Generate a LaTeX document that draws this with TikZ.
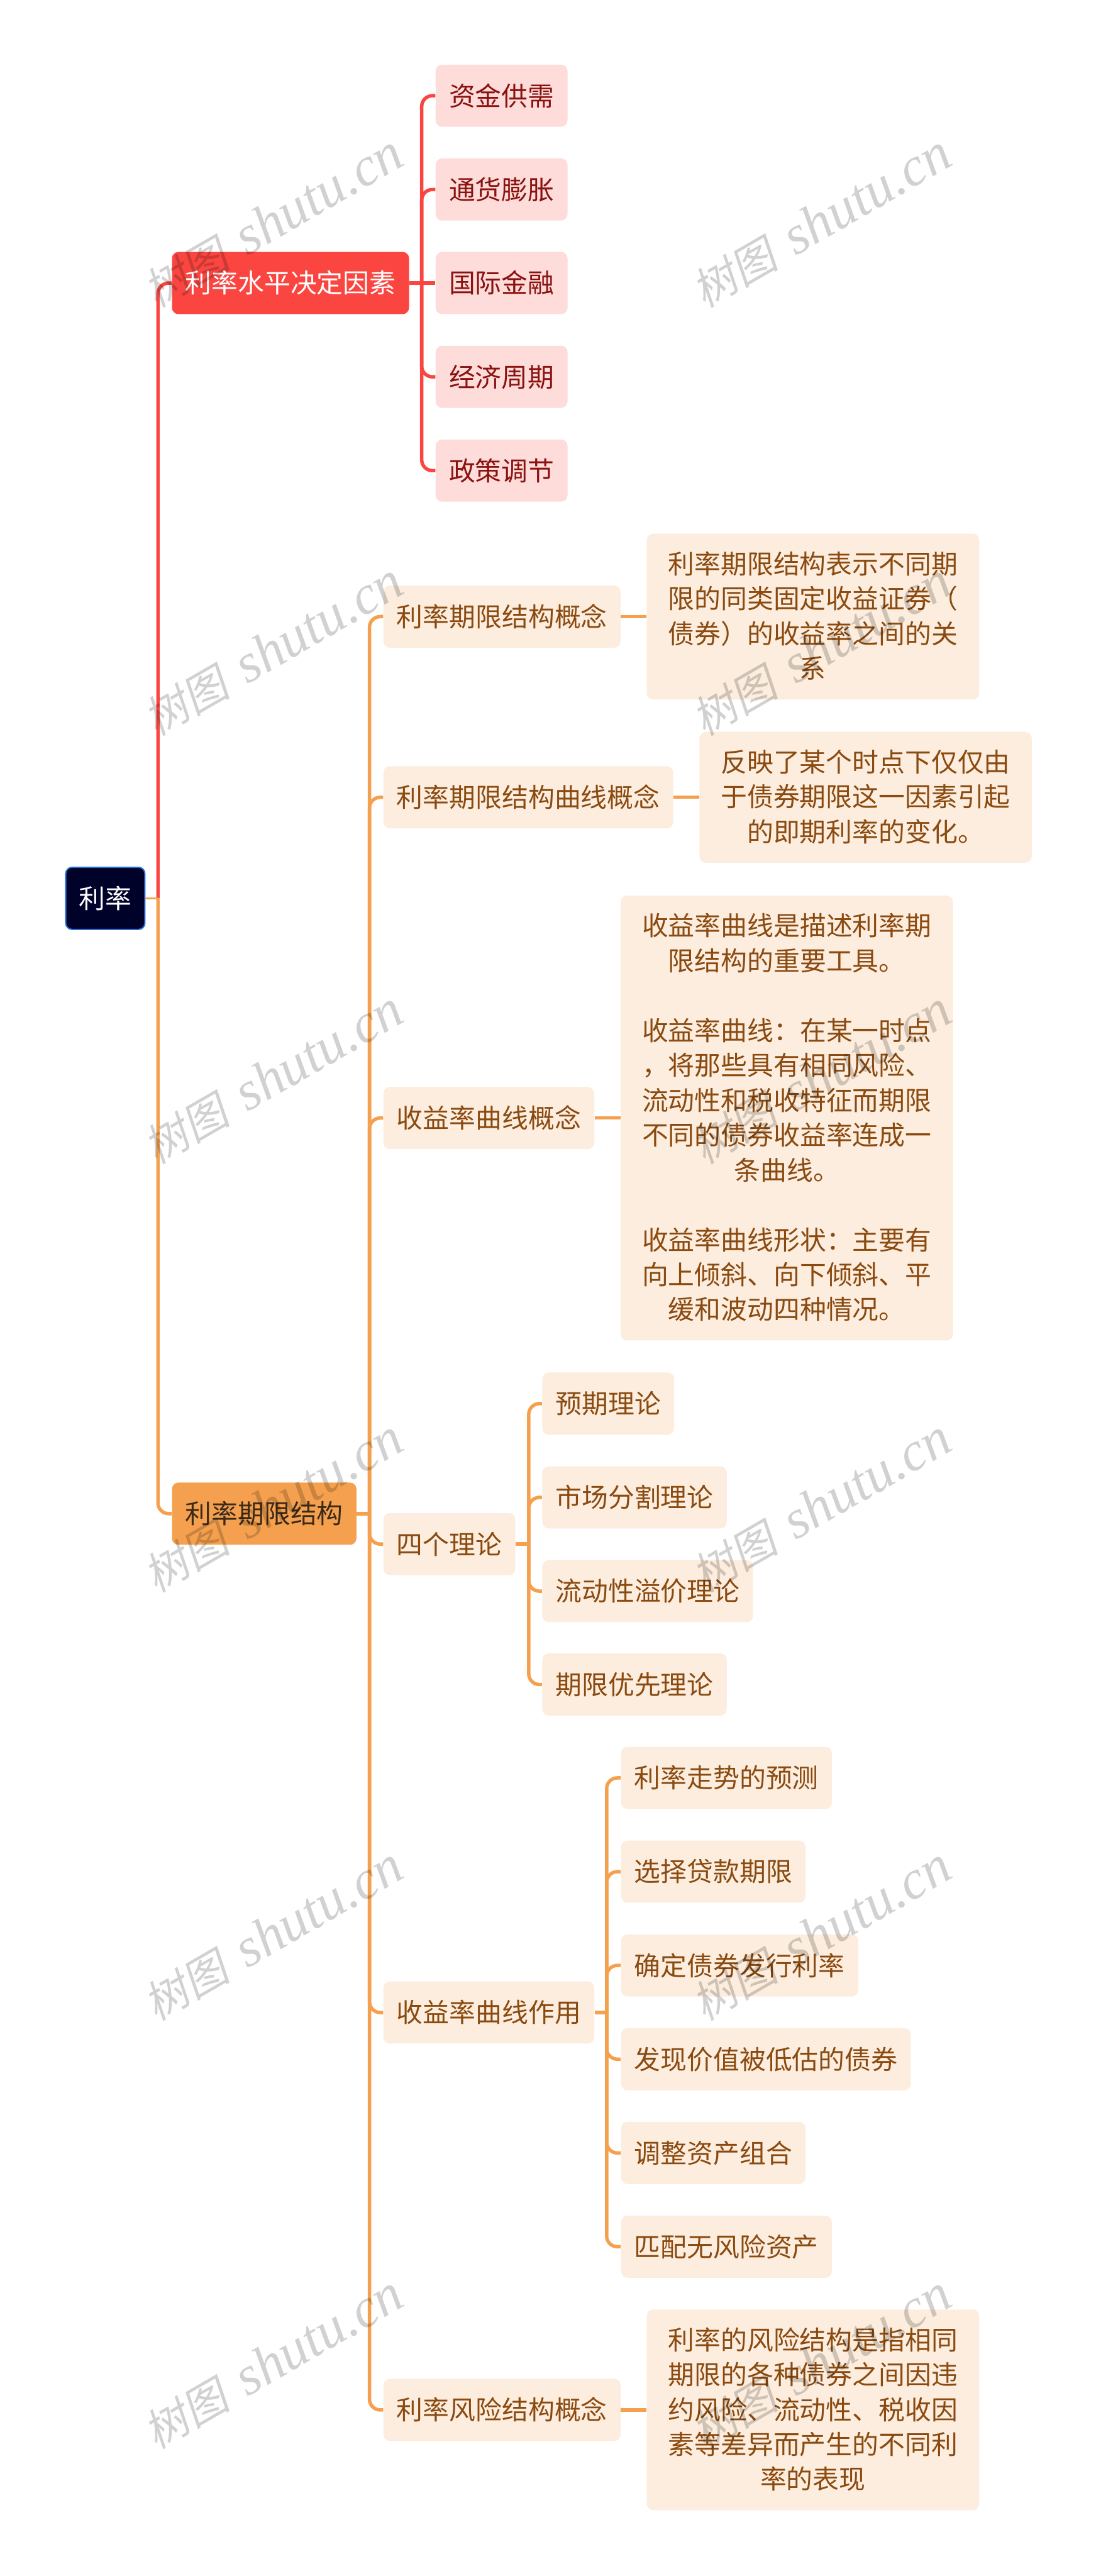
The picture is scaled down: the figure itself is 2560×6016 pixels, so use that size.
\documentclass[tikz,border=0pt]{standalone}
\usepackage{fontspec}
\setmainfont{Noto Sans CJK SC}
\newfontfamily\wmcjk[FakeSlant=0.2]{Noto Sans CJK SC}
\newfontfamily\wmlatin{Liberation Serif Italic}

\definecolor{rootfill}{HTML}{000229}
\definecolor{rootedge}{HTML}{2A6FD6}
\definecolor{redmain}{HTML}{FA4540}
\definecolor{redpale}{HTML}{FDDCDA}
\definecolor{redtext}{HTML}{8A1210}
\definecolor{orangemain}{HTML}{F5A04E}
\definecolor{orangepale}{HTML}{FCEDDE}
\definecolor{orangetext}{HTML}{8A4A10}
\definecolor{darktext}{HTML}{3A2A18}

\newcommand{\ls}{\rule[-0.0737cm]{0pt}{0.6144cm}}

\tikzset{
  basebox/.style={rounded corners=0.15cm, anchor=west, align=center, inner xsep=0.31cm, inner ysep=0.418cm,
    font=\fontsize{17.48}{23.16}\selectfont, execute at begin node=\ls, execute at end node=\ls},
  rootbox/.style={basebox, fill=rootfill, draw=rootedge, line width=0.03cm, text=white},
  redbox/.style={basebox, fill=redmain, text=white},
  redleaf/.style={basebox, fill=redpale, text=redtext},
  orangebox/.style={basebox, fill=orangemain, text=darktext},
  orangeleaf/.style={basebox, fill=orangepale, text=orangetext},
  detailbox/.style={orangeleaf, inner xsep=0.5cm},
  redline/.style={draw=redmain, line width=0.08cm, rounded corners=0.25cm},
  orangeline/.style={draw=orangemain, line width=0.08cm, rounded corners=0.25cm},
  rootline/.style={draw=orangemain, line width=0.055cm},
  watermark/.style={text=black, text opacity=0.18, rotate=30}
}

\begin{document}
\begin{tikzpicture}[x=0.01cm, y=-0.01cm]

\fill[white] (0,0) rectangle (2560,6016);
\useasboundingbox (0,0) rectangle (2560,6016);

% Root
\node[rootbox] (root) at (152,2098) {利率};

% Level one
\node[redbox] (level) at (401,661) {利率水平决定因素};
\node[orangebox] (term) at (401,3535) {利率期限结构};

% Rate level factors
\node[redleaf] (supply) at (1017,223.5) {资金供需};
\node[redleaf] (inflation) at (1017,442.5) {通货膨胀};
\node[redleaf] (finance) at (1017,661) {国际金融};
\node[redleaf] (cycle) at (1017,880) {经济周期};
\node[redleaf] (policy) at (1017,1099) {政策调节};

% Term structure items
\node[orangeleaf] (termidea) at (895,1440) {利率期限结构概念};
\node[orangeleaf] (termcurve) at (895,1862) {利率期限结构曲线概念};
\node[orangeleaf] (yieldidea) at (895,2611) {收益率曲线概念};
\node[orangeleaf] (theories) at (895,3606) {四个理论};
\node[orangeleaf] (yielduse) at (895,4700) {收益率曲线作用};
\node[orangeleaf] (riskidea) at (895,5628) {利率风险结构概念};

% Explanations
\node[detailbox] (termtext) at (1510,1440) {利率期限结构表示不同期\\限的同类固定收益证券（\\债券）的收益率之间的关\\系};
\node[detailbox] (curvetext) at (1633,1862) {反映了某个时点下仅仅由\\于债券期限这一因素引起\\的即期利率的变化。};
\node[detailbox] (yieldtext) at (1449,2611) {收益率曲线是描述利率期\\限结构的重要工具。\\\mbox{}\\收益率曲线：在某一时点\\，将那些具有相同风险、\\流动性和税收特征而期限\\不同的债券收益率连成一\\条曲线。\\\mbox{}\\收益率曲线形状：主要有\\向上倾斜、向下倾斜、平\\缓和波动四种情况。};
\node[detailbox] (risktext) at (1510,5628) {利率的风险结构是指相同\\期限的各种债券之间因违\\约风险、流动性、税收因\\素等差异而产生的不同利\\率的表现};

% Theories
\node[orangeleaf] (expect) at (1266,3278) {预期理论};
\node[orangeleaf] (segment) at (1266,3497) {市场分割理论};
\node[orangeleaf] (liquidity) at (1266,3716) {流动性溢价理论};
\node[orangeleaf] (prefer) at (1266,3934) {期限优先理论};

% Yield curve uses
\node[orangeleaf] (forecast) at (1450,4152) {利率走势的预测};
\node[orangeleaf] (loan) at (1450,4371) {选择贷款期限};
\node[orangeleaf] (issue) at (1450,4590) {确定债券发行利率};
\node[orangeleaf] (value) at (1450,4809) {发现价值被低估的债券};
\node[orangeleaf] (adjust) at (1450,5028) {调整资产组合};
\node[orangeleaf] (match) at (1450,5247) {匹配无风险资产};

% Trunks
\coordinate (trunkroot) at (369,0);
\coordinate (trunklevel) at (985,0);
\coordinate (trunkterm) at (863,0);
\coordinate (trunktheory) at (1235,0);
\coordinate (trunkuse) at (1417,0);

% Root connectors
\draw[redline] (trunkroot |- root.east) -- (trunkroot |- level.west) -- (level.west);
\draw[orangeline] (trunkroot |- root.east) -- (trunkroot |- term.west) -- (term.west);
\draw[rootline] (root.east) -- (trunkroot |- root.east);

% Red connectors
\draw[redline] (level.east) -- (finance.west);
\draw[redline] (trunklevel |- level.east) -- (trunklevel |- supply.west) -- (supply.west);
\draw[redline] (trunklevel |- level.east) -- (trunklevel |- inflation.west) -- (inflation.west);
\draw[redline] (trunklevel |- level.east) -- (trunklevel |- cycle.west) -- (cycle.west);
\draw[redline] (trunklevel |- level.east) -- (trunklevel |- policy.west) -- (policy.west);

% Orange connectors
\draw[orangeline] (term.east) -- (trunkterm |- term.east);
\draw[orangeline] (trunkterm |- term.east) -- (trunkterm |- termidea.west) -- (termidea.west);
\draw[orangeline] (trunkterm |- term.east) -- (trunkterm |- termcurve.west) -- (termcurve.west);
\draw[orangeline] (trunkterm |- term.east) -- (trunkterm |- yieldidea.west) -- (yieldidea.west);
\draw[orangeline] (trunkterm |- term.east) -- (trunkterm |- theories.west) -- (theories.west);
\draw[orangeline] (trunkterm |- term.east) -- (trunkterm |- yielduse.west) -- (yielduse.west);
\draw[orangeline] (trunkterm |- term.east) -- (trunkterm |- riskidea.west) -- (riskidea.west);

\draw[orangeline] (termidea.east) -- (termtext.west);
\draw[orangeline] (termcurve.east) -- (curvetext.west);
\draw[orangeline] (yieldidea.east) -- (yieldtext.west);
\draw[orangeline] (riskidea.east) -- (risktext.west);

\draw[orangeline] (theories.east) -- (trunktheory |- theories.east);
\draw[orangeline] (trunktheory |- theories.east) -- (trunktheory |- expect.west) -- (expect.west);
\draw[orangeline] (trunktheory |- theories.east) -- (trunktheory |- segment.west) -- (segment.west);
\draw[orangeline] (trunktheory |- theories.east) -- (trunktheory |- liquidity.west) -- (liquidity.west);
\draw[orangeline] (trunktheory |- theories.east) -- (trunktheory |- prefer.west) -- (prefer.west);

\draw[orangeline] (yielduse.east) -- (trunkuse |- yielduse.east);
\draw[orangeline] (trunkuse |- yielduse.east) -- (trunkuse |- forecast.west) -- (forecast.west);
\draw[orangeline] (trunkuse |- yielduse.east) -- (trunkuse |- loan.west) -- (loan.west);
\draw[orangeline] (trunkuse |- yielduse.east) -- (trunkuse |- issue.west) -- (issue.west);
\draw[orangeline] (trunkuse |- yielduse.east) -- (trunkuse |- value.west) -- (value.west);
\draw[orangeline] (trunkuse |- yielduse.east) -- (trunkuse |- adjust.west) -- (adjust.west);
\draw[orangeline] (trunkuse |- yielduse.east) -- (trunkuse |- match.west) -- (match.west);

% Watermarks
\newcommand{\wmtext}{{\fontsize{29}{30}\wmcjk\selectfont 树图}\hspace{0.42cm}{\fontsize{36.4}{37}\wmlatin\selectfont shutu.cn}}
\node[watermark] (wmleftA) at (638,517) {\wmtext};
\node[watermark] (wmleftB) at (638,1517) {\wmtext};
\node[watermark] (wmleftC) at (638,2517) {\wmtext};
\node[watermark] (wmleftD) at (638,3517) {\wmtext};
\node[watermark] (wmleftE) at (638,4517) {\wmtext};
\node[watermark] (wmleftF) at (638,5517) {\wmtext};
\node[watermark] (wmrightA) at (1918,517) {\wmtext};
\node[watermark] (wmrightB) at (1918,1517) {\wmtext};
\node[watermark] (wmrightC) at (1918,2517) {\wmtext};
\node[watermark] (wmrightD) at (1918,3517) {\wmtext};
\node[watermark] (wmrightE) at (1918,4517) {\wmtext};
\node[watermark] (wmrightF) at (1918,5517) {\wmtext};

\end{tikzpicture}
\end{document}
